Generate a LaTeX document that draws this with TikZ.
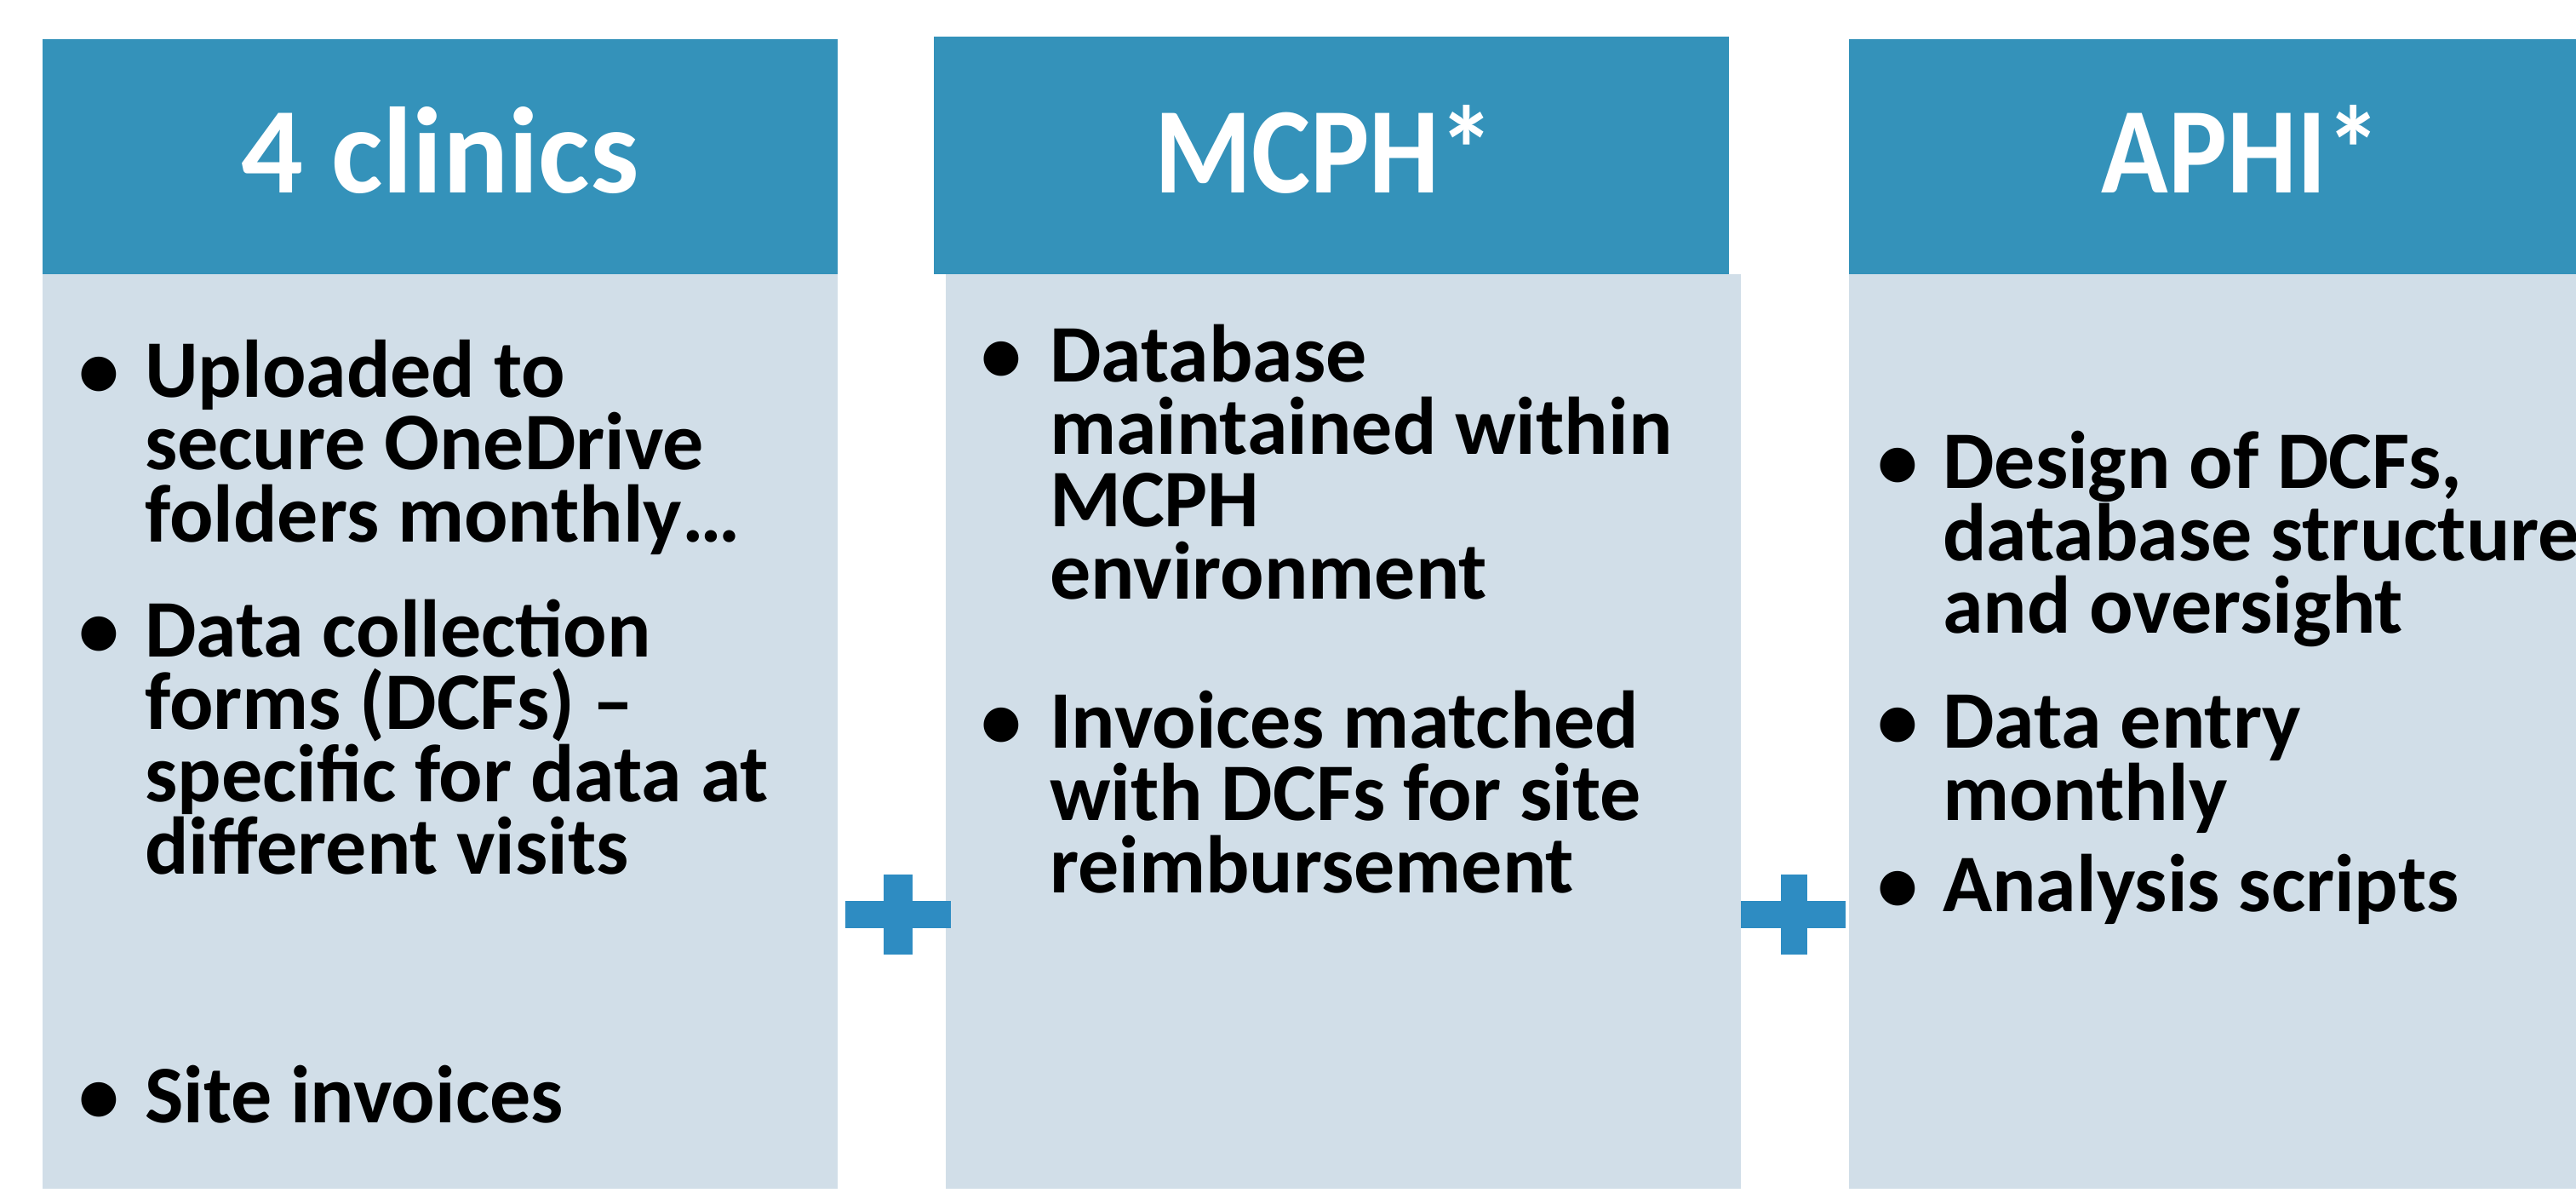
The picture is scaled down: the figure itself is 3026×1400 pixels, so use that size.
\documentclass[tikz,border=0pt]{standalone}
\usepackage{fontspec}
\setmainfont{Carlito}
\definecolor{hdrblue}{RGB}{52,146,186}
\definecolor{plusblue}{RGB}{46,140,194}
\definecolor{bodygray}{RGB}{209,222,232}
\begin{document}
\begin{tikzpicture}[x=1pt,y=-1pt,
  hdr/.style={fill=hdrblue, draw=none, anchor=north west, inner sep=0pt, minimum width=934pt, minimum height=276pt},
  bodybox/.style={fill=bodygray, draw=none, anchor=north west, inner sep=0pt, minimum width=934pt, minimum height=1074pt},
  hdrtext/.style={anchor=base, inner sep=0pt, text=white, font=\fontsize{144}{150}\selectfont\bfseries},
  txt/.style={anchor=base west, inner sep=0pt, font=\fontsize{96}{85}\selectfont\bfseries},
  bul/.style={anchor=base, inner sep=0pt, font=\fontsize{96}{85}\selectfont\bfseries},
  plusbar/.style={fill=plusblue, draw=none}]
\useasboundingbox[fill=white] (0,0) rectangle (3026,1400);

% boxes
\node[hdr] (h1) at (50,46) {};
\node[bodybox] (b1) at (50,322) {};
\node[hdr, minimum height=279pt] (h2) at (1097,43) {};
\node[bodybox] (b2) at (1111,322) {};
\node[hdr] (h3) at (2172,46) {};
\node[bodybox] (b3) at (2172,322) {};

% headers
\node[hdrtext] (t1) at (517,226) {4 clinics};
\node[hdrtext, xscale=0.906] (t2) at (1556,226) {MCPH*};
\node[hdrtext, xscale=0.9] (t3) at (2633,226) {APHI*};

% box 1
\node[bul] (u1) at (116,466) {•};
\node[txt] (l11) at (170,466) {Uploaded to};
\node[txt] (l12) at (170,551) {secure OneDrive};
\node[txt] (l13) at (170,636) {folders monthly…};
\node[bul] (u2) at (116,771) {•};
\node[txt] (l14) at (170,771) {Data collection};
\node[txt] (l15) at (170,856) {forms (DCFs) –};
\node[txt] (l16) at (170,941) {specific for data at};
\node[txt] (l17) at (170,1026) {different visits};
\node[bul] (u3) at (116,1318) {•};
\node[txt] (l18) at (170,1318) {Site invoices};

% box 2
\node[bul] (u4) at (1176,448) {•};
\node[txt] (l21) at (1233,448) {Database};
\node[txt] (l22) at (1233,533) {maintained within};
\node[txt] (l23) at (1233,618) {MCPH};
\node[txt] (l24) at (1233,703) {environment};
\node[bul] (u5) at (1176,878) {•};
\node[txt] (l25) at (1233,878) {Invoices matched};
\node[txt] (l26) at (1233,963) {with DCFs for site};
\node[txt] (l27) at (1233,1048) {reimbursement};

% box 3
\node[bul] (u6) at (2229,573) {•};
\node[txt] (l31) at (2282,573) {Design of DCFs,};
\node[txt] (l32) at (2282,658) {database structure};
\node[txt] (l33) at (2282,743) {and oversight};
\node[bul] (u7) at (2229,878) {•};
\node[txt] (l34) at (2282,878) {Data entry};
\node[txt] (l35) at (2282,963) {monthly};
\node[bul] (u8) at (2229,1070) {•};
\node[txt] (l36) at (2282,1070) {Analysis scripts};

% plus signs
\fill[plusbar] (993,1058) rectangle (1117,1090);
\fill[plusbar] (1038,1027) rectangle (1072,1121);
\fill[plusbar] (2045,1058) rectangle (2168,1090);
\fill[plusbar] (2092,1027) rectangle (2123,1121);
\end{tikzpicture}
\end{document}
